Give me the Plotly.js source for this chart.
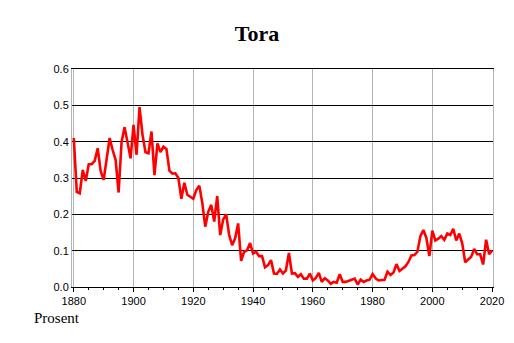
<!DOCTYPE html>
<html>
<head>
<meta charset="utf-8">
<script src="https://cdn.plot.ly/plotly-3.0.1.min.js"></script>
<style>html,body{margin:0;padding:0;background:#fff;}#chart{width:514px;height:343px;}</style>
</head>
<body>
<div id="chart"></div>
<script>
const title = 'Tora';
const yLabel = 'Prosent';
const startYear = 1880;
const values = [
  // 1880-1899
  0.410, 0.262, 0.258, 0.322, 0.292, 0.338, 0.338, 0.347, 0.382, 0.319,
  0.295, 0.354, 0.410, 0.377, 0.350, 0.260, 0.400, 0.440, 0.400, 0.354,
  // 1900-1919
  0.446, 0.364, 0.495, 0.419, 0.371, 0.368, 0.428, 0.308, 0.395, 0.371,
  0.386, 0.380, 0.320, 0.312, 0.313, 0.300, 0.243, 0.287, 0.254, 0.249,
  // 1920-1939
  0.243, 0.267, 0.279, 0.232, 0.166, 0.207, 0.226, 0.180, 0.250, 0.143,
  0.186, 0.200, 0.143, 0.115, 0.134, 0.175, 0.072, 0.097, 0.101, 0.121,
  // 1940-1959
  0.092, 0.097, 0.085, 0.085, 0.054, 0.060, 0.074, 0.037, 0.036, 0.048,
  0.037, 0.046, 0.094, 0.037, 0.038, 0.028, 0.035, 0.023, 0.023, 0.037,
  // 1960-1979
  0.018, 0.025, 0.039, 0.014, 0.024, 0.018, 0.009, 0.014, 0.012, 0.035,
  0.014, 0.014, 0.018, 0.020, 0.023, 0.007, 0.020, 0.014, 0.018, 0.020,
  // 1980-1999
  0.036, 0.024, 0.018, 0.020, 0.020, 0.042, 0.033, 0.040, 0.063, 0.044,
  0.050, 0.057, 0.069, 0.087, 0.088, 0.097, 0.140, 0.157, 0.135, 0.085,
  // 2000-2020
  0.155, 0.128, 0.133, 0.140, 0.130, 0.147, 0.143, 0.160, 0.128, 0.147,
  0.120, 0.068, 0.076, 0.083, 0.105, 0.090, 0.090, 0.062, 0.130, 0.090,
  0.100
];
const years = values.map((v, i) => startYear + i);
const xTicks = [1880, 1900, 1920, 1940, 1960, 1980, 2000, 2020];
const yTicks = [0, 0.1, 0.2, 0.3, 0.4, 0.5, 0.6];

const trace = {
  x: years, y: values, type: 'scatter', mode: 'lines',
  line: {color: '#ff0000', width: 2.6}, hoverinfo: 'skip'
};

const layout = {
  width: 514, height: 343,
  margin: {l: 72, r: 21, t: 69, b: 56},
  paper_bgcolor: '#ffffff', plot_bgcolor: '#ffffff',
  showlegend: false,
  title: {
    text: '<b>' + title + '</b>',
    font: {family: 'Liberation Serif, Times New Roman, serif', size: 22, color: '#000'},
    xref: 'container', x: 0.5, xanchor: 'center',
    yref: 'container', y: 1 - 33/343, yanchor: 'middle'
  },
  xaxis: {
    range: [1879.4, 2020.3],
    tickvals: xTicks, ticktext: xTicks.map(String),
    showgrid: true, gridcolor: '#b4b4b4', gridwidth: 1,
    showline: true, linecolor: '#000', linewidth: 1, mirror: true,
    ticks: 'outside', ticklen: 4, tickcolor: '#000',
    minor: {dtick: 5, tick0: 1880, ticks: 'outside', ticklen: 2, tickcolor: '#000', showgrid: false},
    zeroline: false,
    tickfont: {family: 'Liberation Sans, Arial, sans-serif', size: 11, color: '#000'},
    fixedrange: true
  },
  yaxis: {
    range: [0, 0.6],
    tickvals: yTicks, tickformat: '.1f',
    showgrid: true, gridcolor: '#000', gridwidth: 1,
    showline: true, linecolor: '#b4b4b4', linewidth: 1, mirror: true,
    ticks: '', ticklen: 0,
    zeroline: false,
    tickfont: {family: 'Liberation Sans, Arial, sans-serif', size: 11, color: '#000'},
    fixedrange: true
  },
  annotations: [{
    text: yLabel, showarrow: false,
    xref: 'paper', yref: 'paper',
    x: (32 - 72) / 421, xanchor: 'left',
    y: (287 - 318) / 218, yanchor: 'middle',
    font: {family: 'Liberation Serif, Times New Roman, serif', size: 15, color: '#000'}
  }]
};

Plotly.newPlot('chart', [trace], layout, {displayModeBar: false, staticPlot: true});
</script>
</body>
</html>
